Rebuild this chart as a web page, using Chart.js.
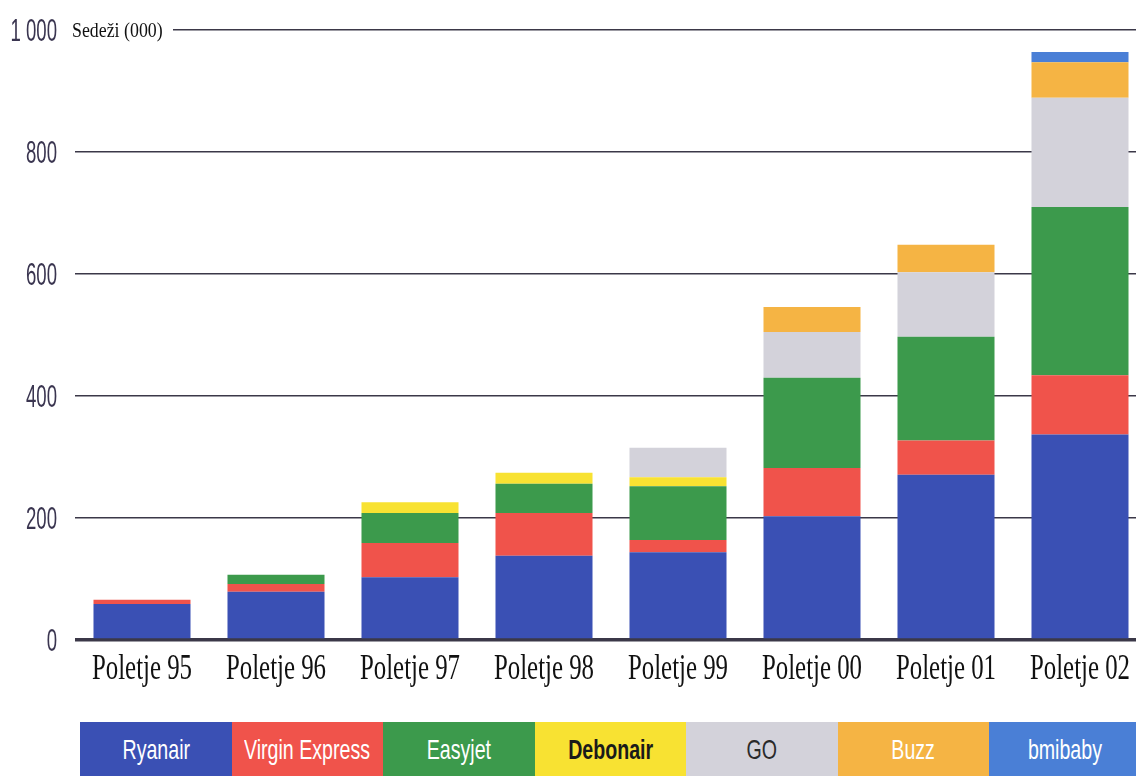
<!DOCTYPE html>
<html>
<head>
<meta charset="utf-8">
<script src="https://cdn.jsdelivr.net/npm/chart.js@4"></script>
<style>
  html, body { margin: 0; padding: 0; background: #fff; overflow: hidden; width: 1136px; height: 776px; }
  #wrap { position: relative; width: 1136px; height: 776px; overflow: hidden; }
  #c { position: absolute; left: 0; top: 0; }
  #legend { position: absolute; left: 80px; top: 722px; height: 54px; display: flex; }
  #legend div { width: 151.5px; height: 54px; display: flex; align-items: center; justify-content: center; overflow: visible; }
  #legend span { display: inline-block; white-space: nowrap; transform: scaleX(0.7); transform-origin: center;
    font-family: 'Liberation Sans', Arial, sans-serif; font-size: 28px; line-height: 28px; margin-top: 2px; }
</style>
</head>
<body>
<div id="wrap">
  <canvas id="c" width="1148" height="700"></canvas>
  <div id="legend"></div>
</div>
<script>
const categories = ['Poletje 95', 'Poletje 96', 'Poletje 97', 'Poletje 98', 'Poletje 99', 'Poletje 00', 'Poletje 01', 'Poletje 02'];
const ryanair  = [59, 79, 103, 138, 144, 203, 271, 337];
const virgin   = [7, 13, 56, 70, 20, 79, 56, 97];
const easyjet  = [0, 15, 49, 48, 88, 148, 170, 276];
const debonair = [0, 0, 18, 18, 15, 0, 0, 0];
const go       = [0, 0, 0, 0, 48, 75, 106, 179];
const buzz     = [0, 0, 0, 0, 0, 41, 45, 58];
const bmibaby  = [0, 0, 0, 0, 0, 0, 0, 17];
const yTicks   = [0, 200, 400, 600, 800, 1000];
const yTickLabels = ['0', '200', '400', '600', '800', '1 000'];
const axisTitle = 'Sedeži (000)';

const series = [
  { label: 'Ryanair', data: ryanair, color: '#3a50b4', text: '#ffffff', weight: 'normal' },
  { label: 'Virgin Express', data: virgin, color: '#f0534b', text: '#ffffff', weight: 'normal' },
  { label: 'Easyjet', data: easyjet, color: '#3c9a4c', text: '#ffffff', weight: 'normal' },
  { label: 'Debonair', data: debonair, color: '#f8e232', text: '#1a1a1a', weight: 'bold' },
  { label: 'GO', data: go, color: '#d3d2da', text: '#2a2a2a', weight: 'normal' },
  { label: 'Buzz', data: buzz, color: '#f5b444', text: '#ffffff', weight: 'normal' },
  { label: 'bmibaby', data: bmibaby, color: '#4a7fd6', text: '#ffffff', weight: 'normal' }
];

const legend = document.getElementById('legend');
series.forEach(s => {
  const d = document.createElement('div');
  d.style.background = s.color;
  const sp = document.createElement('span');
  sp.style.color = s.text;
  sp.style.fontWeight = s.weight;
  sp.textContent = s.label;
  d.appendChild(sp);
  legend.appendChild(d);
});

function drawCondensed(ctx, text, x, y, align, sx, font, color, baseline) {
  ctx.save();
  ctx.translate(x, y);
  ctx.scale(sx, 1);
  ctx.font = font;
  ctx.fillStyle = color;
  ctx.textAlign = align;
  ctx.textBaseline = baseline || 'alphabetic';
  ctx.fillText(text, 0, 0);
  ctx.restore();
}

const labelPlugin = {
  id: 'condensedLabels',
  afterDraw(chart) {
    const ctx = chart.ctx;
    const xs = chart.scales.x, ys = chart.scales.y;
    // axis title over the 1000 gridline
    const yTop = ys.getPixelForValue(1000);
    ctx.save();
    ctx.fillStyle = '#ffffff';
    ctx.fillRect(chart.chartArea.left - 4, yTop - 6, 102, 12);
    ctx.restore();
    drawCondensed(ctx, axisTitle, chart.chartArea.left - 3, yTop + 7, 'left', 0.85,
      "21px 'Liberation Serif', 'Times New Roman', serif", '#111111');
    // y tick labels
    yTicks.forEach((v, i) => {
      drawCondensed(ctx, yTickLabels[i], 57, ys.getPixelForValue(v) + 11, 'right', 0.6,
        "31px 'Liberation Sans', Arial, sans-serif", '#3a3550');
    });
    // x tick labels
    categories.forEach((c, i) => {
      drawCondensed(ctx, c, xs.getPixelForTick(i), 679, 'center', 0.69,
        "36px 'Liberation Serif', 'Times New Roman', serif", '#111111');
    });
  }
};

new Chart(document.getElementById('c'), {
  type: 'bar',
  data: {
    labels: categories,
    datasets: series.map(s => ({
      label: s.label,
      data: s.data,
      backgroundColor: s.color,
      borderWidth: 0,
      barPercentage: 0.724,
      categoryPercentage: 1
    }))
  },
  options: {
    responsive: false,
    animation: false,
    layout: { padding: { top: 30, right: 1, bottom: 0, left: 0 } },
    plugins: { legend: { display: false }, tooltip: { enabled: false } },
    scales: {
      x: {
        stacked: true,
        grid: { display: false, drawTicks: false },
        border: { display: false },
        ticks: { display: false, autoSkip: false },
        afterFit(scale) { scale.height = 60; }
      },
      y: {
        stacked: true,
        min: 0,
        max: 1000,
        afterBuildTicks(scale) { scale.ticks = yTicks.map(v => ({ value: v })); },
        grid: {
          drawTicks: false,
          color: '#3b3848',
          lineWidth: ctx => (ctx.tick && ctx.tick.value === 0) ? 3.5 : 1.6
        },
        border: { display: false },
        ticks: { display: false },
        afterFit(scale) { scale.width = 75; }
      }
    }
  },
  plugins: [labelPlugin]
});
</script>
</body>
</html>
